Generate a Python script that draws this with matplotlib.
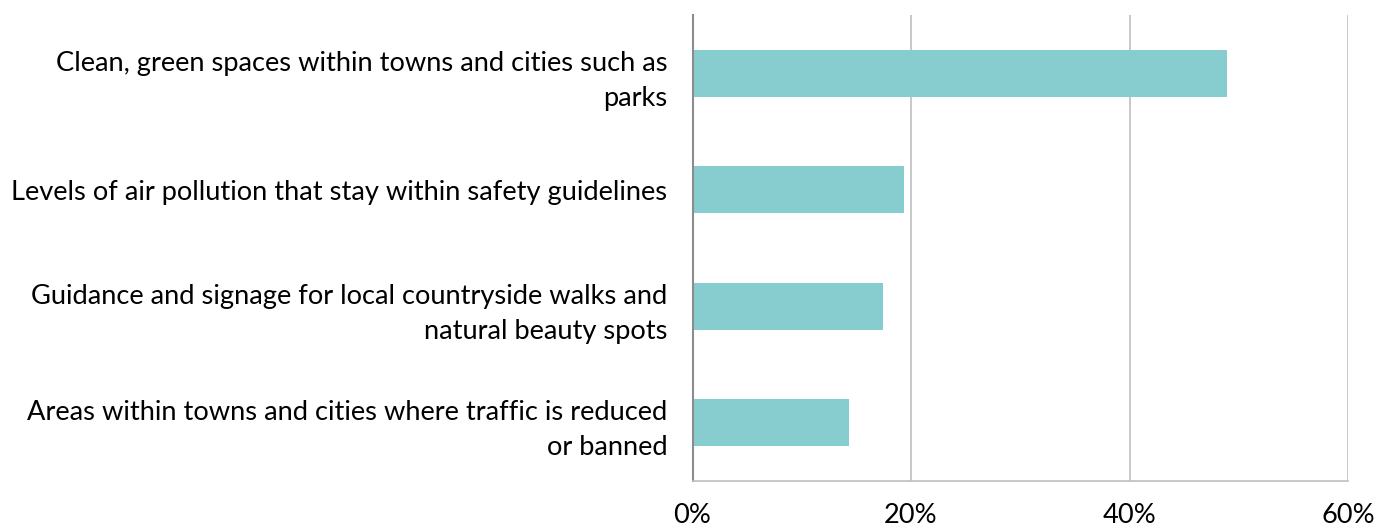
import matplotlib
matplotlib.use("Agg")
import matplotlib.pyplot as plt
from matplotlib.ticker import FuncFormatter

categories = [
    "Clean, green spaces within towns and cities such as\nparks",
    "Levels of air pollution that stay within safety guidelines",
    "Guidance and signage for local countryside walks and\nnatural beauty spots",
    "Areas within towns and cities where traffic is reduced\nor banned",
]
values = [48.9, 19.4, 17.4, 14.3]
xticks = [0, 20, 40, 60]

plt.rcParams['font.family'] = ['Lato', 'DejaVu Sans']

fig = plt.figure(figsize=(13.9, 5.28), dpi=100)
ax = fig.add_axes([692.5/1390, 1 - 481/528, (1348-692.5)/1390, (481-15)/528])

y = list(range(len(categories)))
ax.barh(y, values, height=0.4, color="#87CCCF", zorder=2)
ax.set_ylim(len(categories) - 0.5, -0.5)
ax.set_xlim(0, 60)
ax.set_xticks(xticks)
ax.xaxis.set_major_formatter(FuncFormatter(lambda v, p: f"{v:.0f}%"))
ax.set_yticks(y)
ax.set_yticklabels(categories, fontsize=19.6, ha="right", linespacing=1.5)
ax.tick_params(axis="y", length=0, pad=18)
ax.tick_params(axis="x", length=0, pad=16, labelsize=19.6)
ax.grid(axis="x", color="#BFBFBF", linewidth=1.2, zorder=0)
for s in ["top", "right"]:
    ax.spines[s].set_visible(False)
ax.spines["left"].set_color("#8C8C8C")
ax.spines["left"].set_linewidth(1.5)
ax.spines["bottom"].set_color("#BFBFBF")
ax.spines["bottom"].set_linewidth(1.2)

fig.savefig("out.png", dpi=100)
